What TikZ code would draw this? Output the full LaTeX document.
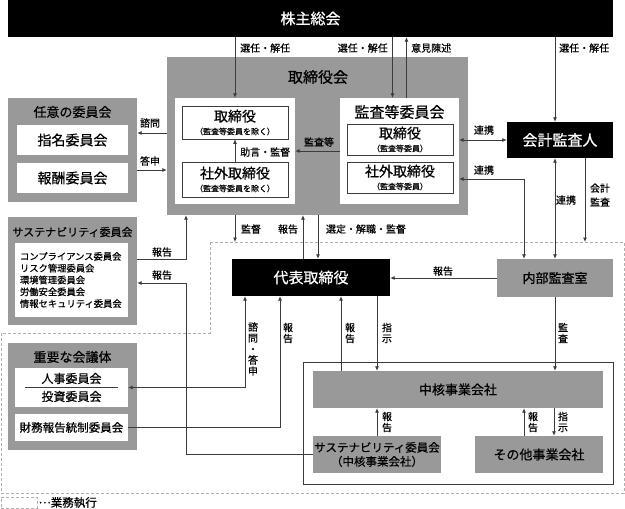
\documentclass[tikz,border=0pt]{standalone}
\usepackage{fontspec}
\setmainfont{Noto Sans CJK JP}[FakeBold=0.6]
\usetikzlibrary{calc, positioning, arrows.meta}

\definecolor{boxgray}{RGB}{153,153,153}
\definecolor{linegray}{RGB}{60,60,60}
\definecolor{dashgray}{RGB}{175,175,175}
\newcommand{\jfs}[1]{\fontsize{#1}{#1}\selectfont}

\begin{document}
\begin{tikzpicture}[
    x=1pt, y=-1pt,
    >={Latex[length=4.5pt, width=4pt]},
    conn/.style={draw=linegray, line width=0.8pt},
    blackbox/.style={fill=black, text=white, inner sep=0pt, font=\jfs{15}},
    graybox/.style={fill=boxgray, inner sep=0pt, align=center},
    whitebox/.style={fill=white, inner sep=0pt, align=center},
    framebox/.style={fill=white, draw=linegray, line width=0.6pt, inner sep=0pt, align=center, font=\jfs{14}},
    title_font/.style={font=\jfs{14}},
    lbl/.style={font=\jfs{10}, inner sep=0pt},
    vlbl/.style={font=\fontsize{10}{11}\selectfont, align=center, inner sep=0pt}
]

    \useasboundingbox (0,0) rectangle (625,509);

    % Execution area (dashed)
    \coordinate (exec_nw) at (210,242);
    \draw[dashgray, line width=0.8pt, dash pattern=on 3pt off 2pt] (exec_nw) -- (624,242) -- (624,493) -- (1,493) -- (1,333) -- (210,333) -- cycle;

    % Shareholders
    \node[blackbox, minimum width=605, minimum height=37] (shareholders) at (310.5,18.5) {株主総会};

    % Board of directors
    \node[graybox, minimum width=301, minimum height=158] (board) at (317.5,136) {};
    \node[title_font, font=\jfs{15}] (board_title) at (318,77) {取締役会};
    \node[whitebox, minimum width=120, minimum height=106] (dir_panel) at (235,151) {};
    \node[framebox, minimum width=106, minimum height=33] (dir) at (235,122.5) {取締役\\[-1pt]{\jfs{8}（監査等委員を除く）}};
    \node[framebox, minimum width=106, minimum height=35] (out_dir) at (235,179.5) {社外取締役\\[-1pt]{\jfs{8}（監査等委員を除く）}};

    % Audit and supervisory committee
    \node[whitebox, minimum width=119, minimum height=106] (ac_panel) at (399.5,151) {};
    \node[font=\jfs{15}] (ac_title) at (399.5,112) {監査等委員会};
    \node[framebox, minimum width=106, minimum height=31] (ac_dir) at (400,139.5) {取締役\\[-1pt]{\jfs{8}（監査等委員）}};
    \node[framebox, minimum width=106, minimum height=31] (ac_out) at (400,177.5) {社外取締役\\[-1pt]{\jfs{8}（監査等委員）}};

    % Accounting auditor
    \node[blackbox, minimum width=106, minimum height=36] (auditor) at (560,140) {会計監査人};

    % Optional committees
    \node[graybox, minimum width=129, minimum height=104] (opt_comm) at (72.5,150) {};
    \node[font=\jfs{13}] (opt_title) at (72.5,112) {任意の委員会};
    \node[whitebox, minimum width=111, minimum height=30, font=\jfs{14}] (nom) at (72.5,140) {指名委員会};
    \node[whitebox, minimum width=111, minimum height=30, font=\jfs{14}] (rem) at (72.5,178) {報酬委員会};

    % Sustainability committee
    \node[graybox, minimum width=129, minimum height=108] (sus) at (72.5,271) {};
    \node[font=\jfs{11}] (sus_title) at (72.5,232) {サステナビリティ委員会};
    \node[whitebox, minimum width=113, minimum height=74, text width=103, align=left, font=\fontsize{9.3}{11.8}\selectfont] (sus_list) at (71.5,280) {コンプライアンス委員会\\リスク管理委員会\\環境管理委員会\\労働安全委員会\\情報セキュリティ委員会};

    % Important meetings
    \node[graybox, minimum width=129, minimum height=107] (mtg) at (72.5,396.5) {};
    \node[font=\jfs{13}] (mtg_title) at (72.5,357) {重要な会議体};
    \node[whitebox, minimum width=113, minimum height=39, font=\fontsize{12}{18}\selectfont] (hr) at (71.5,387.5) {人事委員会\\投資委員会};
    \draw[linegray, line width=0.8pt] ($(hr.west)+(10,0)$) -- ($(hr.east)+(-10,0)$);
    \node[whitebox, minimum width=113, minimum height=27, font=\jfs{11.5}] (fin) at (71.5,427.5) {財務報告統制委員会};

    % Executives
    \node[blackbox, minimum width=158, minimum height=37] (ceo) at (311,277.5) {代表取締役};
    \node[graybox, minimum width=116, minimum height=38, font=\jfs{13}] (ia) at (555,278) {内部監査室};

    % Group companies
    \node[draw=linegray, line width=0.8pt, minimum width=310, minimum height=122, inner sep=0pt] (group) at (458,423) {};
    \node[graybox, minimum width=290, minimum height=37, font=\jfs{13}] (core) at (458,389.5) {中核事業会社};
    \node[graybox, minimum width=128, minimum height=37, font=\fontsize{11.5}{14}\selectfont] (core_sus) at (377,454.5) {サステナビリティ委員会\\（中核事業会社）};
    \node[graybox, minimum width=128, minimum height=37, font=\jfs{13}] (other) at (539,454.5) {その他事業会社};

    % Legend
    \node[draw=dashgray, line width=0.8pt, dash pattern=on 3pt off 2pt, minimum width=36, minimum height=11, inner sep=0pt] (legend_box) at (19,502.5) {};
    \node[anchor=west, font=\jfs{11.5}, inner sep=1pt] (legend_text) at (legend_box.east) {\raisebox{0.3em}{…}業務執行};

    % Connections
    % Shareholders to board / auditor
    \draw[conn,->] (shareholders.south -| dir_panel.north) -- (dir_panel.north);
    \coordinate (sel_ac) at ($(ac_panel.north)+(-7,0)$);
    \coordinate (opinion) at ($(ac_panel.north)+(7,0)$);
    \draw[conn,->] (shareholders.south -| sel_ac) -- (sel_ac);
    \draw[conn,->] (opinion) -- (shareholders.south -| opinion);
    \coordinate (sel_aud) at ($(auditor.north)+(-5,0)$);
    \draw[conn,->] (shareholders.south -| sel_aud) -- (sel_aud);

    % Inside the board
    \draw[conn,->] (ac_panel.west) -- (dir_panel.east);
    \draw[conn,->] (out_dir.north) -- (dir.south);

    % Optional committees
    \draw[conn,->] (board.west |- 0,133) -- (opt_comm.east |- 0,133);
    \draw[conn,->] (opt_comm.east |- 0,170) -- (board.west |- 0,170);

    % Cooperation
    \draw[conn,<->] (ac_panel.east |- auditor.west) -- (auditor.west);
    \coordinate (link_ia) at ($(ia.north)+(-31,0)$);
    \draw[conn,<->] (ac_panel.east |- 0,179) -| (link_ia);
    \draw[conn,<->] (auditor.south -| ia.north) -- (ia.north);
    \coordinate (audit_acc) at ($(auditor.south)+(25,0)$);
    \draw[conn,->] (audit_acc) -- (audit_acc |- exec_nw);

    % Board and representative director
    \draw[conn,->] (board.south -| dir_panel.south) -- (dir_panel.south |- exec_nw);
    \coordinate (rep_ceo) at ($(ceo.north)+(-8,0)$);
    \draw[conn,->] (rep_ceo) -- (board.south -| rep_ceo);
    \coordinate (sel_ceo) at ($(ceo.north)+(7,0)$);
    \draw[conn,->] (board.south -| sel_ceo) -- (sel_ceo);

    % Internal audit
    \draw[conn,->] (ia.west) -- (ceo.east |- ia.west);
    \draw[conn,->] (ia.south) -- (core.north -| ia.south);

    % Representative director and core company
    \coordinate (rep_core) at ($(ceo.south)+(30,0)$);
    \coordinate (ord_core) at ($(ceo.south)+(66,0)$);
    \draw[conn,->] (core.north -| rep_core) -- (rep_core);
    \draw[conn,->] (ord_core) -- (core.north -| ord_core);

    % Representative director and meetings
    \coordinate (ask_hr) at ($(ceo.south)+(-66,0)$);
    \draw[conn,<->] (ask_hr) |- (hr.east);
    \coordinate (rep_fin) at ($(ceo.south)+(-31,0)$);
    \draw[conn,->] (fin.east) -| (rep_fin);

    % Sustainability reporting
    \coordinate (sus_bus) at (186,283);
    \draw[conn,->] (core_sus.west) -| (sus_bus) -- (sus.east |- sus_bus);
    \draw[conn,->] (sus.east |- 0,259) -| (board.south -| sus_bus);

    % Inside the group
    \draw[conn,->] (core_sus.north) -- (core.south -| core_sus.north);
    \coordinate (rep_other) at ($(other.north)+(-15,0)$);
    \coordinate (ord_other) at ($(other.north)+(15,0)$);
    \draw[conn,->] (rep_other) -- (core.south -| rep_other);
    \draw[conn,->] (core.south -| ord_other) -- (ord_other);

    % Labels
    \node[lbl, anchor=west] (lab_sel1) at (240,48) {選任・解任};
    \node[lbl, anchor=east] (lab_sel2) at (388,48) {選任・解任};
    \node[lbl, anchor=west] (lab_opinion) at (411,48) {意見陳述};
    \node[lbl, anchor=west] (lab_sel3) at (559,48) {選任・解任};
    \node[lbl] (lab_audit_etc) at (319,142) {監査等};
    \node[lbl, anchor=west] (lab_advice) at (240,152) {助言・監督};
    \node[lbl] (lab_ask) at (150,123) {諮問};
    \node[lbl] (lab_answer) at (150,161) {答申};
    \node[lbl] (lab_link1) at (484,130) {連携};
    \node[lbl] (lab_link2) at (484,170) {連携};
    \node[lbl] (lab_link3) at (566,200) {連携};
    \node[vlbl] (lab_acc) at (600,195) {会計\\[3pt]監査};
    \node[lbl] (lab_sup) at (251,229) {監督};
    \node[lbl] (lab_rep_board) at (288,229) {報告};
    \node[lbl] (lab_sel_ceo) at (366,229) {選定・解職・監督};
    \node[lbl] (lab_rep_ia) at (443,271) {報告};
    \node[lbl] (lab_rep_sus) at (162,252) {報告};
    \node[lbl] (lab_rep_core_sus) at (162,275) {報告};
    \node[vlbl] (lab_ask_hr) at (253,349) {諮\\問\\・\\答\\申};
    \node[vlbl] (lab_rep_fin) at (288,333) {報\\告};
    \node[vlbl] (lab_rep_core) at (350,333) {報\\告};
    \node[vlbl] (lab_ord_core) at (387,333) {指\\示};
    \node[vlbl] (lab_audit_ia) at (563,333) {監\\査};
    \node[vlbl] (lab_rep_group) at (387,422) {報\\告};
    \node[vlbl] (lab_rep_other) at (533,422) {報\\告};
    \node[vlbl] (lab_ord_other) at (563,422) {指\\示};

\end{tikzpicture}
\end{document}
